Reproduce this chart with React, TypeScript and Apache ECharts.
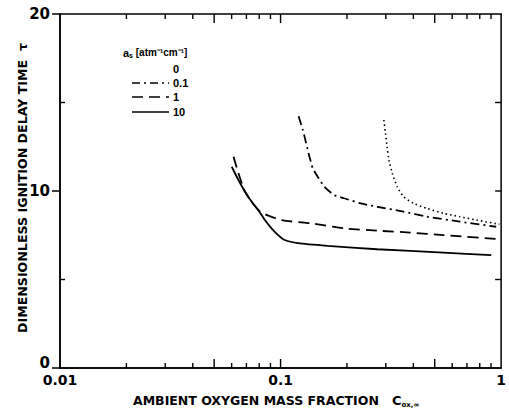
import React, { useEffect, useRef } from "react";
import * as echarts from "echarts";

// a_s = 0 (dotted)
const x0 = [0.294, 0.299, 0.304, 0.31, 0.321, 0.338, 0.361, 0.401, 0.46, 0.547, 0.65, 0.772, 0.982];
const y0 = [14.01, 13.26, 12.5, 11.75, 11.0, 10.24, 9.68, 9.3, 9.02, 8.74, 8.55, 8.36, 8.12];
// a_s = 0.1 (dash-dot)
const x01 = [0.1207, 0.1262, 0.1306, 0.1352, 0.14, 0.1474, 0.158, 0.175, 0.194, 0.231, 0.274, 0.361, 0.46, 0.65, 0.95];
const y01 = [14.22, 13.45, 12.69, 11.94, 11.28, 10.81, 10.24, 9.77, 9.59, 9.3, 9.11, 8.83, 8.55, 8.27, 7.98];
// a_s = 1 (dashed)
const x1 = [0.0612, 0.0634, 0.069, 0.0806, 0.101, 0.1375, 0.194, 0.274, 0.387, 0.547, 1.0];
const y1 = [11.94, 11.29, 9.96, 8.84, 8.36, 8.17, 7.89, 7.76, 7.65, 7.51, 7.27];
// a_s = 10 (solid)
const x10 = [0.0601, 0.0644, 0.069, 0.0739, 0.0792, 0.0849, 0.091, 0.0975, 0.1044, 0.12, 0.163, 0.274, 0.547, 0.902];
const y10 = [11.37, 10.62, 9.96, 9.4, 8.93, 8.36, 7.89, 7.51, 7.23, 7.05, 6.9, 6.71, 6.52, 6.38];

const legendLabels = ["0", "0.1", "1", "10"];
const xLabels = [0.01, 0.1, 1];
const yLabels = [0, 10, 20];
const minorTicksX = [0.02, 0.03, 0.04, 0.06, 0.07, 0.08, 0.09, 0.2, 0.3, 0.4, 0.6, 0.7, 0.8, 0.9];
const majorTicksX = [0.05, 0.1, 0.5];
const minorTicksY = [5, 15];
const rightTicksY = [5, 10, 15];

const pairs = (xs: number[], ys: number[]) => xs.map((x, i) => [x, ys[i]]);

const FONT = "'DejaVu Sans', 'Liberation Sans', Arial, sans-serif";
const FONT2 = "'Liberation Sans', Arial, sans-serif";

export default function App() {
  const ref = useRef<HTMLDivElement>(null);
  useEffect(() => {
    if (!ref.current) return;
    const chart = echarts.init(ref.current, undefined, { renderer: "svg" });
    const lineStyleBase = { color: "#000" };
    const xTickData = [
      ...minorTicksX.map((v) => [v, 5]),
      ...majorTicksX.map((v) => [v, 9]),
    ];
    const yTickData = [
      ...minorTicksY.map((v) => [v, 5, 1]),
      ...rightTicksY.map((v) => [v, 6, 2]),
    ];
    const legendY = [83, 97, 112];
    const legendDash: any[] = [[8, 4, 2, 4], [11, 6], null];
    chart.setOption({
      animation: false,
      backgroundColor: "#fff",
      grid: {
        left: 60,
        right: 4,
        top: 14,
        bottom: 41,
        show: true,
        borderColor: "#000",
        borderWidth: 1.5,
      },
      xAxis: {
        type: "log",
        logBase: 10,
        min: 0.01,
        max: 1,
        axisLine: { show: true, lineStyle: { color: "#000", width: 1.5 } },
        axisTick: { show: false },
        splitLine: { show: false },
        axisLabel: {
          color: "#000",
          fontFamily: FONT,
          fontWeight: "bold",
          fontSize: 14,
          margin: 5,
          formatter: (v: number) => {
            const m = xLabels.find((l) => Math.abs(l - v) / l < 1e-6);
            return m === undefined ? "" : String(m);
          },
        },
      },
      yAxis: {
        type: "value",
        min: 0,
        max: 20,
        interval: 10,
        axisLine: { show: true, lineStyle: { color: "#000", width: 1.5 } },
        axisTick: { show: true, inside: false, length: 8, lineStyle: { color: "#000", width: 1.5 } },
        splitLine: { show: false },
        axisLabel: {
          color: "#000",
          fontFamily: FONT,
          fontWeight: "bold",
          fontSize: 15,
          margin: 10,
          formatter: (v: number) => (yLabels.includes(v) ? (v === 0 ? "{z|0}" : String(v)) : ""),
          rich: {
            z: { fontFamily: FONT, fontWeight: "bold", fontSize: 15, color: "#000", padding: [0, 0, 10, 0] },
          },
        },
      },
      series: [
        {
          name: "0",
          type: "line",
          data: pairs(x0, y0),
          showSymbol: false,
          smooth: 0.2,
          lineStyle: { ...lineStyleBase, width: 1.6, type: [1.5, 3] },
        },
        {
          name: "0.1",
          type: "line",
          data: pairs(x01, y01),
          showSymbol: false,
          smooth: 0.2,
          lineStyle: { ...lineStyleBase, width: 1.8, type: [9, 4, 2, 4] },
        },
        {
          name: "1",
          type: "line",
          data: pairs(x1, y1),
          showSymbol: false,
          smooth: 0.2,
          lineStyle: { ...lineStyleBase, width: 1.8, type: [11, 6] },
        },
        {
          name: "10",
          type: "line",
          data: pairs(x10, y10),
          showSymbol: false,
          smooth: 0.2,
          lineStyle: { ...lineStyleBase, width: 1.8, type: "solid" },
        },
        {
          type: "custom",
          data: xTickData,
          silent: true,
          renderItem: (_p: any, api: any) => {
            const v = api.value(0);
            const len = api.value(1);
            const b = api.coord([v, 0]);
            const t = api.coord([v, 20]);
            const style = { stroke: "#000", lineWidth: 1.4 };
            return {
              type: "group",
              children: [
                { type: "line", shape: { x1: b[0], y1: b[1], x2: b[0], y2: b[1] - len }, style },
                { type: "line", shape: { x1: t[0], y1: t[1], x2: t[0], y2: t[1] + len }, style },
              ],
            };
          },
        },
        {
          type: "custom",
          data: yTickData,
          silent: true,
          renderItem: (_p: any, api: any) => {
            const v = api.value(0);
            const len = api.value(1);
            const side = api.value(2);
            const style = { stroke: "#000", lineWidth: 1.4 };
            if (side === 1) {
              const l = api.coord([0.01, v]);
              return { type: "line", shape: { x1: l[0], y1: l[1], x2: l[0] + len, y2: l[1] }, style };
            }
            const r = api.coord([1, v]);
            return { type: "line", shape: { x1: r[0], y1: r[1], x2: r[0] - len, y2: r[1] }, style };
          },
        },
      ],
      graphic: [
        {
          type: "text",
          left: 133,
          top: 394,
          style: {
            text: "AMBIENT OXYGEN MASS FRACTION   {c|C}{s|ox,∞}",
            font: `bold 12.5px ${FONT}`,
            fill: "#000",
            rich: {
              c: { font: `bold 13px ${FONT}`, fill: "#000" },
              s: { font: `bold 7px ${FONT}`, fill: "#000", padding: [8, 0, 0, 0] },
            },
          },
        },
        {
          type: "text",
          x: 22,
          y: 188,
          rotation: Math.PI / 2,
          style: {
            text: "DIMENSIONLESS IGNITION DELAY TIME  τ",
            font: `bold 12.6px ${FONT}`,
            fill: "#000",
            align: "center",
            verticalAlign: "middle",
          },
        },
        {
          type: "text",
          left: 123,
          top: 47,
          style: {
            text: "{a|a}{s|s} [atm⁻¹cm⁻¹]",
            font: `bold 10px ${FONT2}`,
            fill: "#000",
            rich: {
              a: { font: `bold 11px ${FONT2}`, fill: "#000" },
              s: { font: `bold 7px ${FONT2}`, fill: "#000", padding: [5, 0, 0, 0] },
            },
          },
        },
        ...legendLabels.map((lab, i) => ({
          type: "text",
          x: 173,
          y: 69 + [0, 14, 28, 43][i],
          style: {
            text: lab,
            font: `bold 11px ${FONT2}`,
            fill: "#000",
            align: "left",
            verticalAlign: "middle",
          },
        })),
        ...legendY.map((y, i) => ({
          type: "line",
          shape: { x1: 132, y1: y, x2: 169, y2: y },
          style: { stroke: "#000", lineWidth: 1.6, lineDash: legendDash[i] || undefined },
        })),
      ],
    });
    return () => chart.dispose();
  }, []);
  return (
    <div
      ref={ref}
      style={{ position: "fixed", left: 0, top: 0, width: 509, height: 409, background: "#fff" }}
    />
  );
}
